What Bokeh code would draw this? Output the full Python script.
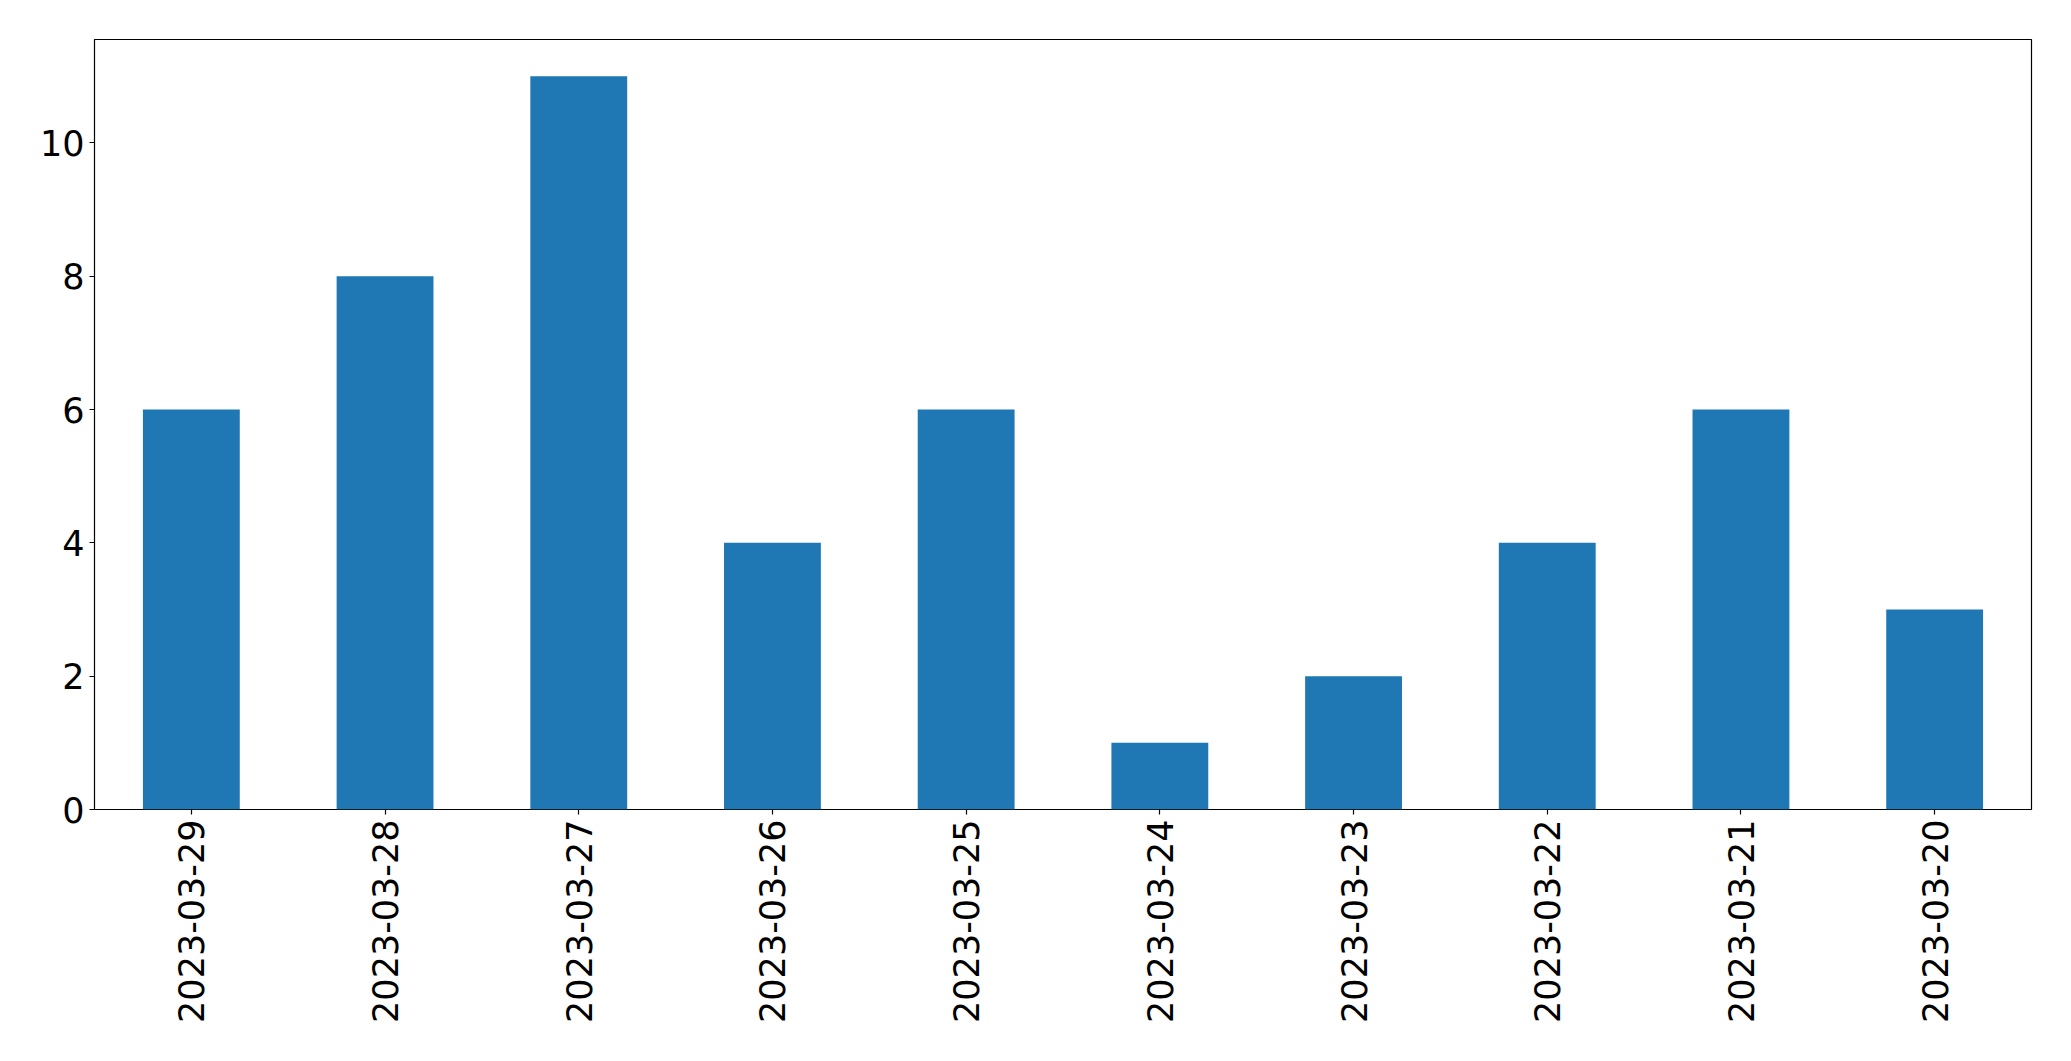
import math
from bokeh.plotting import figure
from bokeh.models import ColumnDataSource, FactorRange, Range1d, FixedTicker
from bokeh.embed import file_html
from bokeh.resources import INLINE

dates = ["2023-03-29", "2023-03-28", "2023-03-27", "2023-03-26", "2023-03-25",
         "2023-03-24", "2023-03-23", "2023-03-22", "2023-03-21", "2023-03-20"]
counts = [6, 8, 11, 4, 6, 1, 2, 4, 6, 3]
y_ticks = [0, 2, 4, 6, 8, 10]

src = ColumnDataSource(dict(date=dates, count=counts))

p = figure(width=2055, height=1045, output_backend="svg", toolbar_location=None,
           x_range=FactorRange(*dates, range_padding=0),
           y_range=Range1d(0, max(counts) * 1.05),
           min_border_left=94, min_border_right=24, min_border_top=39,
           min_border_bottom=236)

p.vbar(x="date", top="count", width=0.5, source=src,
       fill_color="#1f77b4", line_color=None)

p.xgrid.visible = False
p.ygrid.visible = False
p.outline_line_color = "black"
p.outline_line_width = 1.2
p.outline_line_alpha = 1.0
p.background_fill_color = "white"
p.border_fill_color = "white"

for ax in (p.xaxis[0], p.yaxis[0]):
    ax.axis_line_color = None
    ax.major_tick_in = 0
    ax.major_tick_out = 5
    ax.major_tick_line_color = "black"
    ax.major_tick_line_width = 1.2
    ax.minor_tick_line_color = None
    ax.major_label_text_font = "DejaVu Sans"
    ax.major_label_text_font_size = "35px"
    ax.major_label_text_color = "black"
    ax.major_label_standoff = 5

p.yaxis[0].ticker = FixedTicker(ticks=y_ticks)
p.xaxis[0].major_label_orientation = math.pi / 2
p.xaxis[0].group_text_font_size = "0px"

open("out.html", "w").write(file_html(p, INLINE))
